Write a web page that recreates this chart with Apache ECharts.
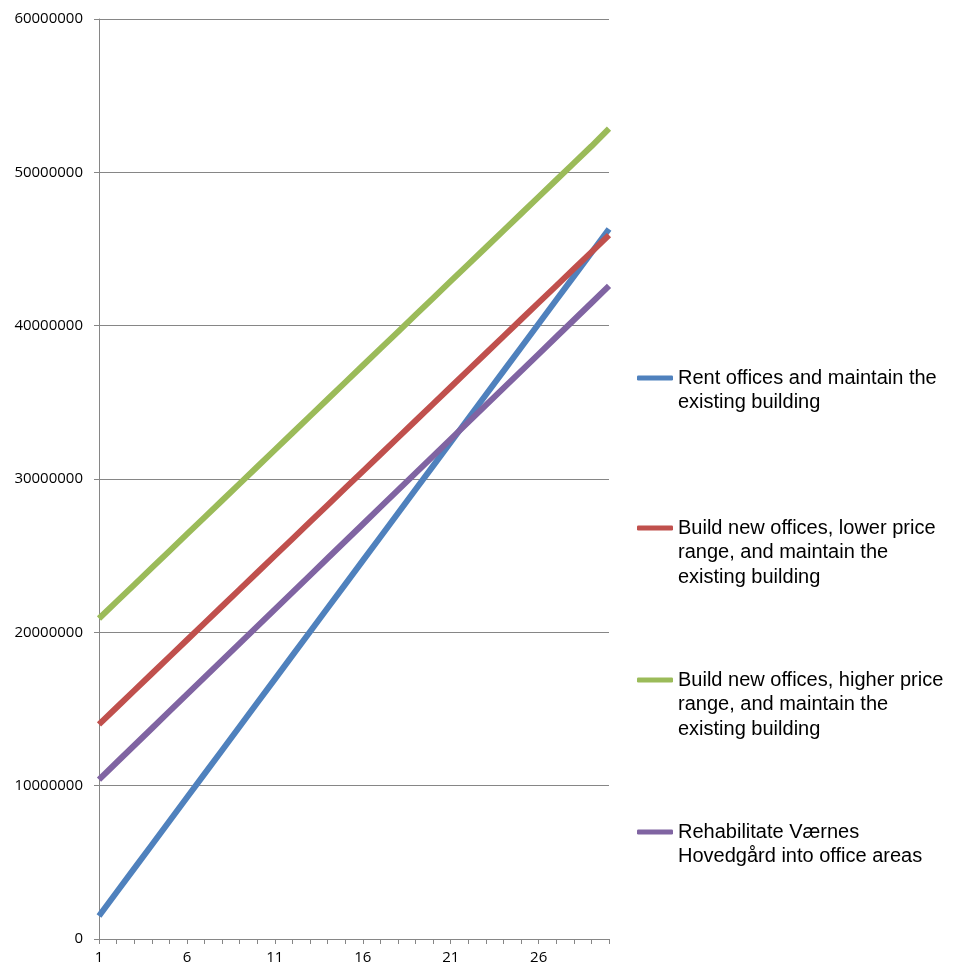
<!DOCTYPE html>
<html>
<head>
<meta charset="utf-8">
<title>Cost comparison</title>
<script src="https://cdn.jsdelivr.net/npm/echarts@6/dist/echarts.min.js"></script>
<style>
  html, body { margin: 0; padding: 0; background: #ffffff; }
  #chart { width: 961px; height: 968px; }
</style>
</head>
<body>
<div id="chart"></div>
<script>
// Years 1..30
var years = [];
for (var i = 1; i <= 30; i++) years.push(String(i));

var seriesNames = [
  'Rent offices and maintain the existing building',
  'Build new offices, lower price range, and maintain the existing building',
  'Build new offices, higher price range, and maintain the existing building',
  'Rehabilitate Værnes Hovedgård into office areas'
];

// Legend text, wrapped as displayed
var legendLabels = [
  'Rent offices and maintain the\nexisting building',
  'Build new offices, lower price\nrange, and maintain the\nexisting building',
  'Build new offices, higher price\nrange, and maintain the\nexisting building',
  'Rehabilitate Værnes\nHovedgård into office areas'
];

var rentValues = [
  1500000, 3045000, 4590000, 6135000, 7680000, 9225000, 10770000, 12315000, 13860000, 15405000,
  16950000, 18495000, 20040000, 21585000, 23130000, 24675000, 26220000, 27765000, 29310000, 30855000,
  32400000, 33945000, 35490000, 37035000, 38580000, 40125000, 41670000, 43215000, 44760000, 46305000
];
var lowerPriceValues = [
  14000000, 15100000, 16200000, 17300000, 18400000, 19500000, 20600000, 21700000, 22800000, 23900000,
  25000000, 26100000, 27200000, 28300000, 29400000, 30500000, 31600000, 32700000, 33800000, 34900000,
  36000000, 37100000, 38200000, 39300000, 40400000, 41500000, 42600000, 43700000, 44800000, 45900000
];
var higherPriceValues = [
  20900000, 22000000, 23100000, 24200000, 25300000, 26400000, 27500000, 28600000, 29700000, 30800000,
  31900000, 33000000, 34100000, 35200000, 36300000, 37400000, 38500000, 39600000, 40700000, 41800000,
  42900000, 44000000, 45100000, 46200000, 47300000, 48400000, 49500000, 50600000, 51700000, 52850000
];
var rehabValues = [
  10400000, 11510000, 12620000, 13730000, 14840000, 15950000, 17060000, 18170000, 19280000, 20390000,
  21500000, 22610000, 23720000, 24830000, 25940000, 27050000, 28160000, 29270000, 30380000, 31490000,
  32600000, 33710000, 34820000, 35930000, 37040000, 38150000, 39260000, 40370000, 41480000, 42590000
];

var colors = ['#4F81BD', '#C0504D', '#9BBB59', '#8064A2'];
var allValues = [rentValues, lowerPriceValues, higherPriceValues, rehabValues];

var axisGray = '#868686';
var textFont = 'Liberation Sans';
var lh = 24.5;
// Icon centre of each legend entry
var legendIconY = [378, 528, 680, 832];

// Each entry gets its own legend so the swatch sits beside the first text line:
// blank lines above the text keep the first line level with the swatch.
var legends = seriesNames.map(function (name, idx) {
  var n = legendLabels[idx].split('\n').length;
  var h = (2 * n - 1) * lh;
  var pad = new Array(n).join('\n');
  return {
    orient: 'vertical',
    left: 637,
    top: legendIconY[idx] - h / 2,
    padding: 0,
    data: [name],
    icon: 'roundRect',
    itemWidth: 36,
    itemHeight: 5,
    itemGap: 0,
    itemTextGap: 2,
    selectedMode: false,
    formatter: function () { return pad + legendLabels[idx]; },
    textStyle: {
      fontFamily: textFont,
      fontSize: 20,
      color: '#000000',
      lineHeight: lh
    }
  };
});

var chart = echarts.init(document.getElementById('chart'), null, { renderer: 'canvas' });
chart.setOption({
  animation: false,
  backgroundColor: '#ffffff',
  color: colors,
  legend: legends,
  grid: { left: 99, right: 352, top: 19, bottom: 29, containLabel: false },
  xAxis: {
    type: 'category',
    data: years,
    boundaryGap: false,
    axisLine: { lineStyle: { color: axisGray, width: 1 } },
    axisTick: { show: true, interval: 0, length: 5, lineStyle: { color: axisGray } },
    axisLabel: {
      interval: 4,
      margin: 11,
      fontFamily: 'Open Sans',
      fontSize: 15,
      color: '#000000'
    },
    splitLine: { show: false }
  },
  yAxis: {
    type: 'value',
    min: 0,
    max: 60000000,
    interval: 10000000,
    axisLine: { show: true, lineStyle: { color: axisGray, width: 1 } },
    axisTick: { show: true, length: 5, lineStyle: { color: axisGray } },
    axisLabel: {
      margin: 16,
      fontFamily: 'Open Sans',
      fontSize: 15,
      color: '#000000',
      formatter: function (v) { return String(v); }
    },
    splitLine: { show: true, lineStyle: { color: axisGray, width: 1 } }
  },
  series: seriesNames.map(function (name, idx) {
    return {
      name: name,
      type: 'line',
      data: allValues[idx],
      showSymbol: false,
      symbol: 'none',
      lineStyle: { width: 6, color: colors[idx], cap: 'butt' },
      itemStyle: { color: colors[idx] }
    };
  })
});
</script>
</body>
</html>
